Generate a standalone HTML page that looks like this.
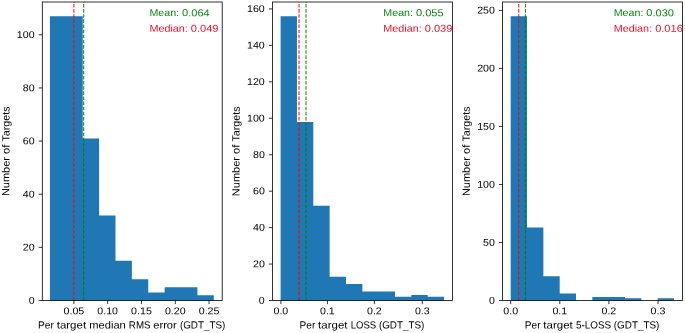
<!DOCTYPE html>
<html><head><meta charset="utf-8"><title>Histograms</title>
<style>html,body{margin:0;padding:0;background:#fff}body{width:685px;height:333px;overflow:hidden}</style></head>
<body>
<svg width="685" height="333" viewBox="0 0 685 333" style="display:block;font-family:'Liberation Sans',sans-serif">
<rect width="685" height="333" fill="#fff"/>
<g style="will-change:opacity;text-rendering:geometricPrecision;filter:blur(0.35px)">
<path d="M49.95 300.50 L49.95 16.21 L66.34 16.21 L66.34 16.21 L82.72 16.21 L82.72 138.43 L99.11 138.43 L99.11 215.48 L115.49 215.48 L115.49 260.65 L131.88 260.65 L131.88 279.24 L148.26 279.24 L148.26 292.53 L164.64 292.53 L164.65 287.22 L181.03 287.22 L181.03 287.22 L197.42 287.22 L197.42 295.19 L213.80 295.19 L213.80 300.50 Z" fill="#1f77b4"/>
<line x1="73.86" x2="73.86" y1="300.5" y2="2.0" stroke="#ff0000" stroke-width="1.15" stroke-dasharray="3.59 1.55" stroke-opacity="0.85"/>
<line x1="83.67" x2="83.67" y1="300.5" y2="2.0" stroke="#008000" stroke-width="1.15" stroke-dasharray="3.59 1.55" stroke-opacity="0.85"/>
<rect x="42.30" y="2.0" width="179.9" height="298.50" fill="none" stroke="#000" stroke-width="0.8"/>
<line x1="73.87" x2="73.87" y1="300.5" y2="304.1" stroke="#000" stroke-width="0.8"/>
<text y="314.30" font-size="9.85" fill="#000" xml:space="preserve" transform="rotate(0.05 73.87 314.30)"><tspan x="63.52" textLength="20.71" lengthAdjust="spacingAndGlyphs">0.05</tspan></text>
<line x1="107.67" x2="107.67" y1="300.5" y2="304.1" stroke="#000" stroke-width="0.8"/>
<text y="314.30" font-size="9.85" fill="#000" xml:space="preserve" transform="rotate(0.05 107.67 314.30)"><tspan x="97.32" textLength="20.71" lengthAdjust="spacingAndGlyphs">0.10</tspan></text>
<line x1="141.47" x2="141.47" y1="300.5" y2="304.1" stroke="#000" stroke-width="0.8"/>
<text y="314.30" font-size="9.85" fill="#000" xml:space="preserve" transform="rotate(0.05 141.47 314.30)"><tspan x="131.12" textLength="20.71" lengthAdjust="spacingAndGlyphs">0.15</tspan></text>
<line x1="175.27" x2="175.27" y1="300.5" y2="304.1" stroke="#000" stroke-width="0.8"/>
<text y="314.30" font-size="9.85" fill="#000" xml:space="preserve" transform="rotate(0.05 175.27 314.30)"><tspan x="164.92" textLength="20.71" lengthAdjust="spacingAndGlyphs">0.20</tspan></text>
<line x1="209.07" x2="209.07" y1="300.5" y2="304.1" stroke="#000" stroke-width="0.8"/>
<text y="314.30" font-size="9.85" fill="#000" xml:space="preserve" transform="rotate(0.05 209.07 314.30)"><tspan x="198.72" textLength="20.71" lengthAdjust="spacingAndGlyphs">0.25</tspan></text>
<line x1="38.70" x2="42.30" y1="300.50" y2="300.50" stroke="#000" stroke-width="0.8"/>
<text y="303.70" font-size="9.85" fill="#000" xml:space="preserve" transform="rotate(0.05 34.60 303.70)"><tspan x="28.68" textLength="5.92" lengthAdjust="spacingAndGlyphs">0</tspan></text>
<line x1="38.70" x2="42.30" y1="247.36" y2="247.36" stroke="#000" stroke-width="0.8"/>
<text y="250.56" font-size="9.85" fill="#000" xml:space="preserve" transform="rotate(0.05 34.60 250.56)"><tspan x="22.77" textLength="11.83" lengthAdjust="spacingAndGlyphs">20</tspan></text>
<line x1="38.70" x2="42.30" y1="194.22" y2="194.22" stroke="#000" stroke-width="0.8"/>
<text y="197.42" font-size="9.85" fill="#000" xml:space="preserve" transform="rotate(0.05 34.60 197.42)"><tspan x="22.77" textLength="11.83" lengthAdjust="spacingAndGlyphs">40</tspan></text>
<line x1="38.70" x2="42.30" y1="141.09" y2="141.09" stroke="#000" stroke-width="0.8"/>
<text y="144.29" font-size="9.85" fill="#000" xml:space="preserve" transform="rotate(0.05 34.60 144.29)"><tspan x="22.77" textLength="11.83" lengthAdjust="spacingAndGlyphs">60</tspan></text>
<line x1="38.70" x2="42.30" y1="87.95" y2="87.95" stroke="#000" stroke-width="0.8"/>
<text y="91.15" font-size="9.85" fill="#000" xml:space="preserve" transform="rotate(0.05 34.60 91.15)"><tspan x="22.77" textLength="11.83" lengthAdjust="spacingAndGlyphs">80</tspan></text>
<line x1="38.70" x2="42.30" y1="34.81" y2="34.81" stroke="#000" stroke-width="0.8"/>
<text y="38.01" font-size="9.85" fill="#000" xml:space="preserve" transform="rotate(0.05 34.60 38.01)"><tspan x="16.85" textLength="17.75" lengthAdjust="spacingAndGlyphs">100</tspan></text>
<text y="328.50" font-size="10.4" fill="#000" xml:space="preserve" transform="rotate(0.05 131.75 328.50)"><tspan x="38.11" textLength="18.58" lengthAdjust="spacingAndGlyphs">Per </tspan><tspan x="56.69" textLength="32.64" lengthAdjust="spacingAndGlyphs">target </tspan><tspan x="89.34" textLength="39.53" lengthAdjust="spacingAndGlyphs">median </tspan><tspan x="128.86" textLength="24.40" lengthAdjust="spacingAndGlyphs">RMS </tspan><tspan x="153.26" textLength="26.62" lengthAdjust="spacingAndGlyphs">error </tspan><tspan x="179.88" textLength="45.51" lengthAdjust="spacingAndGlyphs">(GDT_TS)</tspan></text>
<text y="151.25" font-size="10.4" fill="#000" xml:space="preserve" transform="rotate(-89.95 9.40 151.25)"><tspan x="-35.47" textLength="42.14" lengthAdjust="spacingAndGlyphs">Number </tspan><tspan x="6.67" textLength="12.46" lengthAdjust="spacingAndGlyphs">of </tspan><tspan x="19.13" textLength="35.14" lengthAdjust="spacingAndGlyphs">Targets</tspan></text>
<text y="16.10" font-size="10.0" fill="#0a860f" xml:space="preserve" transform="rotate(0.05 149.40 16.10)"><tspan x="149.40" textLength="32.65" lengthAdjust="spacingAndGlyphs">Mean: </tspan><tspan x="182.05" textLength="27.65" lengthAdjust="spacingAndGlyphs">0.064</tspan></text>
<text y="31.70" font-size="10.0" fill="#f20d26" xml:space="preserve" transform="rotate(0.05 149.40 31.70)"><tspan x="149.40" textLength="41.46" lengthAdjust="spacingAndGlyphs">Median: </tspan><tspan x="190.86" textLength="27.65" lengthAdjust="spacingAndGlyphs">0.049</tspan></text>
<path d="M280.60 300.50 L280.60 16.21 L296.95 16.21 L296.95 121.91 L313.29 121.91 L313.29 205.74 L329.63 205.74 L329.63 276.81 L345.98 276.81 L345.98 284.10 L362.33 284.10 L362.33 291.39 L378.67 291.39 L378.67 291.39 L395.01 291.39 L395.01 296.86 L411.36 296.86 L411.36 295.03 L427.71 295.03 L427.71 296.86 L444.05 296.86 L444.05 300.50 Z" fill="#1f77b4"/>
<line x1="299.05" x2="299.05" y1="300.5" y2="2.0" stroke="#ff0000" stroke-width="1.15" stroke-dasharray="3.59 1.55" stroke-opacity="0.85"/>
<line x1="306.00" x2="306.00" y1="300.5" y2="2.0" stroke="#008000" stroke-width="1.15" stroke-dasharray="3.59 1.55" stroke-opacity="0.85"/>
<rect x="272.50" y="2.0" width="179.9" height="298.50" fill="none" stroke="#000" stroke-width="0.8"/>
<line x1="280.90" x2="280.90" y1="300.5" y2="304.1" stroke="#000" stroke-width="0.8"/>
<text y="314.30" font-size="9.85" fill="#000" xml:space="preserve" transform="rotate(0.05 280.90 314.30)"><tspan x="273.50" textLength="14.79" lengthAdjust="spacingAndGlyphs">0.0</tspan></text>
<line x1="327.40" x2="327.40" y1="300.5" y2="304.1" stroke="#000" stroke-width="0.8"/>
<text y="314.30" font-size="9.85" fill="#000" xml:space="preserve" transform="rotate(0.05 327.40 314.30)"><tspan x="320.00" textLength="14.79" lengthAdjust="spacingAndGlyphs">0.1</tspan></text>
<line x1="374.40" x2="374.40" y1="300.5" y2="304.1" stroke="#000" stroke-width="0.8"/>
<text y="314.30" font-size="9.85" fill="#000" xml:space="preserve" transform="rotate(0.05 374.40 314.30)"><tspan x="367.00" textLength="14.79" lengthAdjust="spacingAndGlyphs">0.2</tspan></text>
<line x1="422.30" x2="422.30" y1="300.5" y2="304.1" stroke="#000" stroke-width="0.8"/>
<text y="314.30" font-size="9.85" fill="#000" xml:space="preserve" transform="rotate(0.05 422.30 314.30)"><tspan x="414.90" textLength="14.79" lengthAdjust="spacingAndGlyphs">0.3</tspan></text>
<line x1="268.90" x2="272.50" y1="300.50" y2="300.50" stroke="#000" stroke-width="0.8"/>
<text y="303.70" font-size="9.85" fill="#000" xml:space="preserve" transform="rotate(0.05 264.80 303.70)"><tspan x="258.88" textLength="5.92" lengthAdjust="spacingAndGlyphs">0</tspan></text>
<line x1="268.90" x2="272.50" y1="264.05" y2="264.05" stroke="#000" stroke-width="0.8"/>
<text y="267.25" font-size="9.85" fill="#000" xml:space="preserve" transform="rotate(0.05 264.80 267.25)"><tspan x="252.97" textLength="11.83" lengthAdjust="spacingAndGlyphs">20</tspan></text>
<line x1="268.90" x2="272.50" y1="227.61" y2="227.61" stroke="#000" stroke-width="0.8"/>
<text y="230.81" font-size="9.85" fill="#000" xml:space="preserve" transform="rotate(0.05 264.80 230.81)"><tspan x="252.97" textLength="11.83" lengthAdjust="spacingAndGlyphs">40</tspan></text>
<line x1="268.90" x2="272.50" y1="191.16" y2="191.16" stroke="#000" stroke-width="0.8"/>
<text y="194.36" font-size="9.85" fill="#000" xml:space="preserve" transform="rotate(0.05 264.80 194.36)"><tspan x="252.97" textLength="11.83" lengthAdjust="spacingAndGlyphs">60</tspan></text>
<line x1="268.90" x2="272.50" y1="154.71" y2="154.71" stroke="#000" stroke-width="0.8"/>
<text y="157.91" font-size="9.85" fill="#000" xml:space="preserve" transform="rotate(0.05 264.80 157.91)"><tspan x="252.97" textLength="11.83" lengthAdjust="spacingAndGlyphs">80</tspan></text>
<line x1="268.90" x2="272.50" y1="118.27" y2="118.27" stroke="#000" stroke-width="0.8"/>
<text y="121.47" font-size="9.85" fill="#000" xml:space="preserve" transform="rotate(0.05 264.80 121.47)"><tspan x="247.05" textLength="17.75" lengthAdjust="spacingAndGlyphs">100</tspan></text>
<line x1="268.90" x2="272.50" y1="81.82" y2="81.82" stroke="#000" stroke-width="0.8"/>
<text y="85.02" font-size="9.85" fill="#000" xml:space="preserve" transform="rotate(0.05 264.80 85.02)"><tspan x="247.05" textLength="17.75" lengthAdjust="spacingAndGlyphs">120</tspan></text>
<line x1="268.90" x2="272.50" y1="45.37" y2="45.37" stroke="#000" stroke-width="0.8"/>
<text y="48.57" font-size="9.85" fill="#000" xml:space="preserve" transform="rotate(0.05 264.80 48.57)"><tspan x="247.05" textLength="17.75" lengthAdjust="spacingAndGlyphs">140</tspan></text>
<line x1="268.90" x2="272.50" y1="8.92" y2="8.92" stroke="#000" stroke-width="0.8"/>
<text y="12.12" font-size="9.85" fill="#000" xml:space="preserve" transform="rotate(0.05 264.80 12.12)"><tspan x="247.05" textLength="17.75" lengthAdjust="spacingAndGlyphs">160</tspan></text>
<text y="328.50" font-size="10.4" fill="#000" xml:space="preserve" transform="rotate(0.05 361.95 328.50)"><tspan x="299.51" textLength="18.58" lengthAdjust="spacingAndGlyphs">Per </tspan><tspan x="318.09" textLength="32.64" lengthAdjust="spacingAndGlyphs">target </tspan><tspan x="350.74" textLength="28.15" lengthAdjust="spacingAndGlyphs">LOSS </tspan><tspan x="378.88" textLength="45.51" lengthAdjust="spacingAndGlyphs">(GDT_TS)</tspan></text>
<text y="151.25" font-size="10.4" fill="#000" xml:space="preserve" transform="rotate(-89.95 239.60 151.25)"><tspan x="194.73" textLength="42.14" lengthAdjust="spacingAndGlyphs">Number </tspan><tspan x="236.87" textLength="12.46" lengthAdjust="spacingAndGlyphs">of </tspan><tspan x="249.33" textLength="35.14" lengthAdjust="spacingAndGlyphs">Targets</tspan></text>
<text y="16.10" font-size="10.0" fill="#0a860f" xml:space="preserve" transform="rotate(0.05 383.30 16.10)"><tspan x="383.30" textLength="32.65" lengthAdjust="spacingAndGlyphs">Mean: </tspan><tspan x="415.95" textLength="27.65" lengthAdjust="spacingAndGlyphs">0.055</tspan></text>
<text y="31.70" font-size="10.0" fill="#f20d26" xml:space="preserve" transform="rotate(0.05 383.30 31.70)"><tspan x="383.30" textLength="41.46" lengthAdjust="spacingAndGlyphs">Median: </tspan><tspan x="424.76" textLength="27.65" lengthAdjust="spacingAndGlyphs">0.039</tspan></text>
<path d="M510.70 300.50 L510.70 16.21 L527.03 16.21 L527.03 227.40 L543.36 227.40 L543.36 276.13 L559.69 276.13 L559.69 293.54 L576.02 293.54 L576.02 300.50 L592.35 300.50 L592.35 297.02 L608.68 297.02 L608.68 297.02 L625.01 297.02 L625.01 298.18 L641.34 298.18 L641.34 300.50 L657.67 300.50 L657.67 298.18 L674.00 298.18 L674.00 300.50 Z" fill="#1f77b4"/>
<line x1="518.70" x2="518.70" y1="300.5" y2="2.0" stroke="#ff0000" stroke-width="1.15" stroke-dasharray="3.59 1.55" stroke-opacity="0.85"/>
<line x1="525.50" x2="525.50" y1="300.5" y2="2.0" stroke="#008000" stroke-width="1.15" stroke-dasharray="3.59 1.55" stroke-opacity="0.85"/>
<rect x="502.60" y="2.0" width="179.9" height="298.50" fill="none" stroke="#000" stroke-width="0.8"/>
<line x1="510.70" x2="510.70" y1="300.5" y2="304.1" stroke="#000" stroke-width="0.8"/>
<text y="314.30" font-size="9.85" fill="#000" xml:space="preserve" transform="rotate(0.05 510.70 314.30)"><tspan x="503.30" textLength="14.79" lengthAdjust="spacingAndGlyphs">0.0</tspan></text>
<line x1="559.80" x2="559.80" y1="300.5" y2="304.1" stroke="#000" stroke-width="0.8"/>
<text y="314.30" font-size="9.85" fill="#000" xml:space="preserve" transform="rotate(0.05 559.80 314.30)"><tspan x="552.40" textLength="14.79" lengthAdjust="spacingAndGlyphs">0.1</tspan></text>
<line x1="608.90" x2="608.90" y1="300.5" y2="304.1" stroke="#000" stroke-width="0.8"/>
<text y="314.30" font-size="9.85" fill="#000" xml:space="preserve" transform="rotate(0.05 608.90 314.30)"><tspan x="601.50" textLength="14.79" lengthAdjust="spacingAndGlyphs">0.2</tspan></text>
<line x1="658.00" x2="658.00" y1="300.5" y2="304.1" stroke="#000" stroke-width="0.8"/>
<text y="314.30" font-size="9.85" fill="#000" xml:space="preserve" transform="rotate(0.05 658.00 314.30)"><tspan x="650.60" textLength="14.79" lengthAdjust="spacingAndGlyphs">0.3</tspan></text>
<line x1="499.00" x2="502.60" y1="300.50" y2="300.50" stroke="#000" stroke-width="0.8"/>
<text y="303.70" font-size="9.85" fill="#000" xml:space="preserve" transform="rotate(0.05 494.90 303.70)"><tspan x="488.98" textLength="5.92" lengthAdjust="spacingAndGlyphs">0</tspan></text>
<line x1="499.00" x2="502.60" y1="242.48" y2="242.48" stroke="#000" stroke-width="0.8"/>
<text y="245.68" font-size="9.85" fill="#000" xml:space="preserve" transform="rotate(0.05 494.90 245.68)"><tspan x="483.07" textLength="11.83" lengthAdjust="spacingAndGlyphs">50</tspan></text>
<line x1="499.00" x2="502.60" y1="184.47" y2="184.47" stroke="#000" stroke-width="0.8"/>
<text y="187.67" font-size="9.85" fill="#000" xml:space="preserve" transform="rotate(0.05 494.90 187.67)"><tspan x="477.15" textLength="17.75" lengthAdjust="spacingAndGlyphs">100</tspan></text>
<line x1="499.00" x2="502.60" y1="126.45" y2="126.45" stroke="#000" stroke-width="0.8"/>
<text y="129.65" font-size="9.85" fill="#000" xml:space="preserve" transform="rotate(0.05 494.90 129.65)"><tspan x="477.15" textLength="17.75" lengthAdjust="spacingAndGlyphs">150</tspan></text>
<line x1="499.00" x2="502.60" y1="68.43" y2="68.43" stroke="#000" stroke-width="0.8"/>
<text y="71.63" font-size="9.85" fill="#000" xml:space="preserve" transform="rotate(0.05 494.90 71.63)"><tspan x="477.15" textLength="17.75" lengthAdjust="spacingAndGlyphs">200</tspan></text>
<line x1="499.00" x2="502.60" y1="10.41" y2="10.41" stroke="#000" stroke-width="0.8"/>
<text y="13.61" font-size="9.85" fill="#000" xml:space="preserve" transform="rotate(0.05 494.90 13.61)"><tspan x="477.15" textLength="17.75" lengthAdjust="spacingAndGlyphs">250</tspan></text>
<text y="328.50" font-size="10.4" fill="#000" xml:space="preserve" transform="rotate(0.05 592.05 328.50)"><tspan x="524.76" textLength="18.58" lengthAdjust="spacingAndGlyphs">Per </tspan><tspan x="543.35" textLength="32.64" lengthAdjust="spacingAndGlyphs">target </tspan><tspan x="575.99" textLength="37.84" lengthAdjust="spacingAndGlyphs">5-LOSS </tspan><tspan x="613.83" textLength="45.51" lengthAdjust="spacingAndGlyphs">(GDT_TS)</tspan></text>
<text y="151.25" font-size="10.4" fill="#000" xml:space="preserve" transform="rotate(-89.95 469.70 151.25)"><tspan x="424.83" textLength="42.14" lengthAdjust="spacingAndGlyphs">Number </tspan><tspan x="466.97" textLength="12.46" lengthAdjust="spacingAndGlyphs">of </tspan><tspan x="479.43" textLength="35.14" lengthAdjust="spacingAndGlyphs">Targets</tspan></text>
<text y="16.10" font-size="10.0" fill="#0a860f" xml:space="preserve" transform="rotate(0.05 613.70 16.10)"><tspan x="613.70" textLength="32.65" lengthAdjust="spacingAndGlyphs">Mean: </tspan><tspan x="646.35" textLength="27.65" lengthAdjust="spacingAndGlyphs">0.030</tspan></text>
<text y="31.70" font-size="10.0" fill="#f20d26" xml:space="preserve" transform="rotate(0.05 613.70 31.70)"><tspan x="613.70" textLength="41.46" lengthAdjust="spacingAndGlyphs">Median: </tspan><tspan x="655.16" textLength="27.65" lengthAdjust="spacingAndGlyphs">0.016</tspan></text>
</g>
</svg>
</body></html>
